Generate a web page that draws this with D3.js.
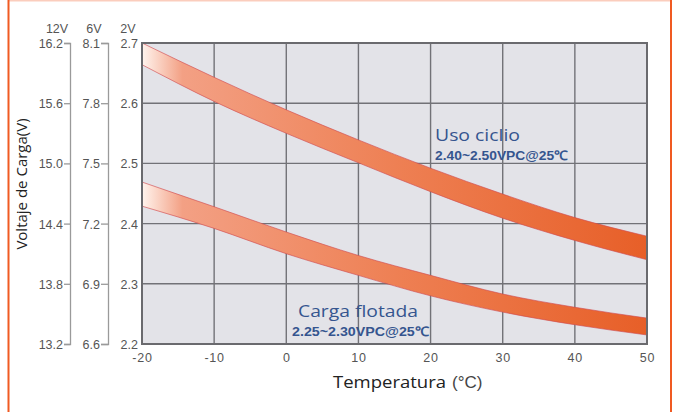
<!DOCTYPE html>
<html>
<head>
<meta charset="utf-8">
<script src="https://cdn.jsdelivr.net/npm/d3@7"></script>
<style>
  body { margin: 0; background: #fff; }
  svg { display: block; font-family: "Liberation Sans", Arial, sans-serif; }
  .tick text { fill: #555; font-size: 12.5px; }
  .ax path, .ax line { stroke: #9a9a9a; stroke-width: 1.3; }
</style>
</head>
<body>
<div id="chart"></div>
<script>
// temperatures (°C) and voltage per cell for both bands
var temps = [-20, -10, 0, 10, 20, 30, 40, 50];
var cycleHigh = [2.700, 2.643, 2.589, 2.539, 2.492, 2.449, 2.410, 2.379];
var cycleLow  = [2.664, 2.603, 2.550, 2.501, 2.453, 2.409, 2.372, 2.340];
var floatHigh = [2.469, 2.428, 2.386, 2.347, 2.314, 2.283, 2.261, 2.243];
var floatLow  = [2.429, 2.392, 2.350, 2.314, 2.280, 2.253, 2.232, 2.215];

var ticks2v = [2.2, 2.3, 2.4, 2.5, 2.6, 2.7];
var ticks6v = [6.6, 6.9, 7.2, 7.5, 7.8, 8.1];
var ticks12v = [13.2, 13.8, 14.4, 15.0, 15.6, 16.2];
var xTicks = [-20, -10, 0, 10, 20, 30, 40, 50];

var width = 673, height = 412;
var svg = d3.select('#chart').append('svg')
  .attr('width', width)
  .attr('height', height);

// outer frame
svg.append('line').attr('x1', 8).attr('x2', 671).attr('y1', 0.5).attr('y2', 0.5)
  .attr('stroke', '#fbcdbd').attr('stroke-width', 2);
svg.append('line').attr('x1', 8.5).attr('x2', 8.5).attr('y1', 0).attr('y2', height)
  .attr('stroke', '#f05a22').attr('stroke-width', 2);
svg.append('line').attr('x1', 671).attr('x2', 671).attr('y1', 0).attr('y2', height)
  .attr('stroke', '#f05a22').attr('stroke-width', 2);

var x = d3.scaleLinear().domain([-20, 50]).range([142, 647]);
var y = d3.scaleLinear().domain([2.2, 2.7]).range([344, 43]);
var y6 = d3.scaleLinear().domain([6.6, 8.1]).range([344, 43]);
var y12 = d3.scaleLinear().domain([13.2, 16.2]).range([344, 43]);

// plot background
svg.append('rect')
  .attr('x', x(-20)).attr('y', y(2.7))
  .attr('width', x(50) - x(-20)).attr('height', y(2.2) - y(2.7))
  .attr('fill', '#e3e3e8');

// grid
var grid = svg.append('g').attr('stroke', '#727277').attr('stroke-width', 1.4);
grid.selectAll('.v').data(xTicks).enter().append('line')
  .attr('x1', d => x(d)).attr('x2', d => x(d))
  .attr('y1', y(2.7)).attr('y2', y(2.2));
grid.selectAll('.h').data(ticks2v).enter().append('line')
  .attr('x1', x(-20)).attr('x2', x(50))
  .attr('y1', d => y(d)).attr('y2', d => y(d));

// band gradient
var defs = svg.append('defs');
var grad = defs.append('linearGradient').attr('id', 'band')
  .attr('gradientUnits', 'userSpaceOnUse')
  .attr('x1', x(-20)).attr('x2', x(50)).attr('y1', 0).attr('y2', 0);
grad.append('stop').attr('offset', 0).attr('stop-color', '#fff4ee');
grad.append('stop').attr('offset', 0.08).attr('stop-color', '#f3a084');
grad.append('stop').attr('offset', 0.5).attr('stop-color', '#ee8054');
grad.append('stop').attr('offset', 1).attr('stop-color', '#e75f28');

defs.append('clipPath').attr('id', 'plotclip').append('rect')
  .attr('x', x(-20)).attr('y', y(2.7) - 2)
  .attr('width', x(50) - x(-20)).attr('height', y(2.2) - y(2.7) + 2);

function band(hi, lo) {
  var rows = temps.map((t, i) => ({t: t, hi: hi[i], lo: lo[i]}));
  var area = d3.area()
    .curve(d3.curveMonotoneX)
    .x(d => x(d.t))
    .y0(d => y(d.lo))
    .y1(d => y(d.hi));
  var line = d3.line().curve(d3.curveMonotoneX).x(d => x(d.t));
  var g = svg.append('g').attr('clip-path', 'url(#plotclip)');
  g.append('path').datum(rows).attr('d', area).attr('fill', 'url(#band)');
  g.append('path').datum(rows).attr('d', line.y(d => y(d.hi)))
    .attr('fill', 'none').attr('stroke', '#cf4a4f').attr('stroke-width', 0.9).attr('stroke-opacity', 0.7);
  g.append('path').datum(rows).attr('d', line.y(d => y(d.lo)))
    .attr('fill', 'none').attr('stroke', '#cf4a4f').attr('stroke-width', 0.9).attr('stroke-opacity', 0.7);
}
band(cycleHigh, cycleLow);
band(floatHigh, floatLow);

// plot border
svg.append('rect')
  .attr('x', x(-20)).attr('y', y(2.7))
  .attr('width', x(50) - x(-20)).attr('height', y(2.2) - y(2.7))
  .attr('fill', 'none').attr('stroke', '#6a6a6e').attr('stroke-width', 2);

// left axes
var ax2 = svg.append('g').attr('class', 'ax').attr('transform', 'translate(' + x(-20) + ',0)')
  .call(d3.axisLeft(y).tickValues(ticks2v).tickSize(0).tickPadding(4).tickFormat(d3.format('.1f')));
ax2.select('.domain').remove();

var ax6 = svg.append('g').attr('class', 'ax').attr('transform', 'translate(108,0)')
  .call(d3.axisLeft(y6).tickValues(ticks6v).tickSize(7).tickPadding(1).tickFormat(d3.format('.1f')));
var ax12 = svg.append('g').attr('class', 'ax').attr('transform', 'translate(70,0)')
  .call(d3.axisLeft(y12).tickValues(ticks12v).tickSize(6).tickPadding(1).tickFormat(d3.format('.1f')));
svg.selectAll('.tick text').attr('dy', '0.36em');

// headers
var heads = [['12V', 57], ['6V', 94], ['2V', 128]];
svg.selectAll('.head').data(heads).enter().append('text')
  .attr('x', d => d[1]).attr('y', 33)
  .attr('text-anchor', 'middle')
  .attr('fill', '#555').attr('font-size', '12.5px')
  .text(d => d[0]);

// bottom axis
var axx = svg.append('g').attr('class', 'ax').attr('transform', 'translate(0,' + y(2.2) + ')')
  .call(d3.axisBottom(x).tickValues(xTicks).tickSize(0).tickPadding(9).tickFormat(d => String(d)));
axx.select('.domain').remove();
axx.selectAll('.tick text').attr('font-size', '13px').attr('letter-spacing', '0.8px');

// axis titles
svg.append('text')
  .attr('transform', 'translate(27,184) rotate(-90)')
  .attr('text-anchor', 'middle')
  .attr('font-family', '"Open Sans", sans-serif')
  .attr('font-size', '15px').attr('fill', '#222')
  .text('Voltaje de Carga(V)');

svg.append('text')
  .attr('x', 333).attr('y', 388)
  .attr('font-family', '"Open Sans", sans-serif')
  .attr('font-size', '16.5px').attr('fill', '#222')
  .attr('textLength', 113).attr('lengthAdjust', 'spacingAndGlyphs')
  .text('Temperatura');
svg.append('text')
  .attr('x', 452).attr('y', 388)
  .attr('font-size', '17px').attr('fill', '#444')
  .text('(°C)');

// band labels
function label(x0, y0, title, titleW, sub, subX, subW) {
  svg.append('text')
    .attr('x', x0).attr('y', y0)
    .attr('font-family', '"Open Sans", sans-serif')
    .attr('font-size', '17px').attr('fill', '#35558f')
    .attr('textLength', titleW).attr('lengthAdjust', 'spacingAndGlyphs')
    .text(title);
  svg.append('text')
    .attr('x', subX).attr('y', y0 + 19)
    .attr('font-size', '13px').attr('font-weight', 'bold').attr('fill', '#35558f')
    .attr('textLength', subW).attr('lengthAdjust', 'spacingAndGlyphs')
    .text(sub);
}
label(435, 141, 'Uso ciclio', 85, '2.40~2.50VPC@25℃', 435, 133);
label(298, 317, 'Carga flotada', 120, '2.25~2.30VPC@25℃', 292, 137);
</script>
</body>
</html>
